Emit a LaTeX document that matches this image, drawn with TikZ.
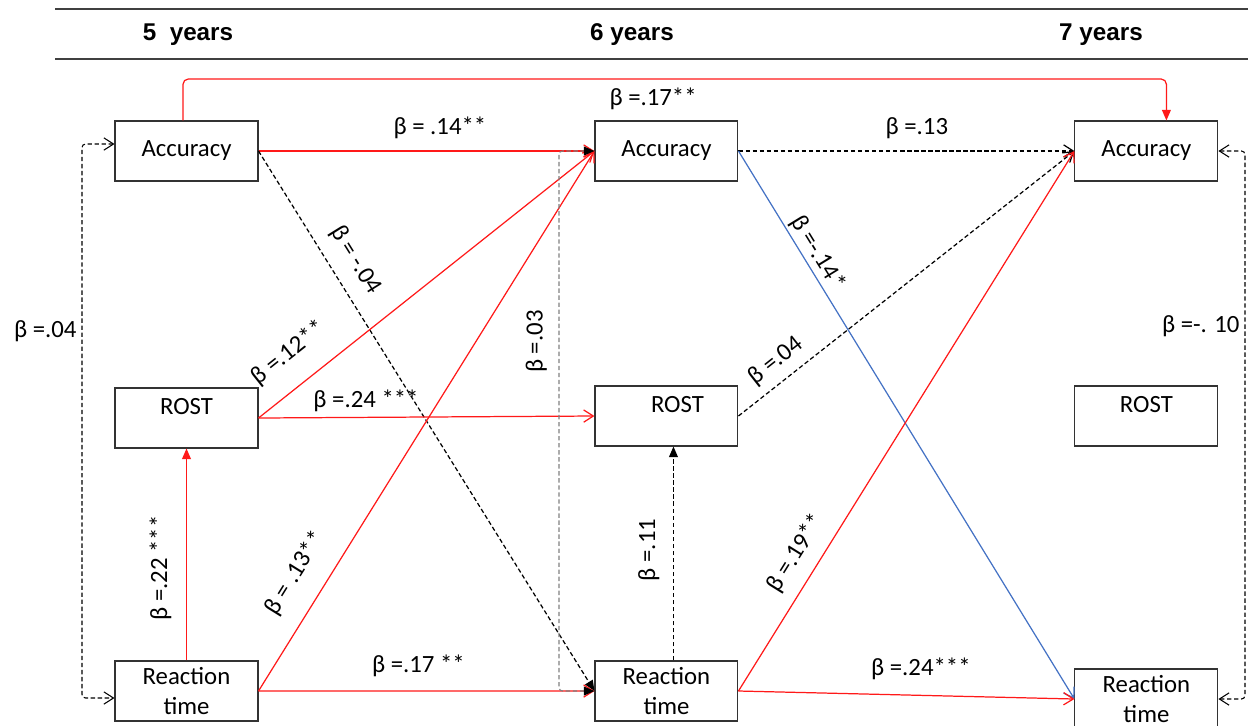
\documentclass[tikz,border=0pt]{standalone}
\usepackage{fontspec}
\setmainfont{Carlito}
\newfontfamily\headfont{Liberation Sans}
\usetikzlibrary{arrows.meta, positioning}
\definecolor{sigred}{RGB}{255,25,25}
\definecolor{negblue}{RGB}{68,114,196}
\tikzset{
  box/.style={
    rectangle, draw=black!80, line width=0.6pt, text centered, align=center,
    minimum width=2.86cm, minimum height=1.2cm, inner sep=0pt,
    font=\fontsize{14.1}{17}\selectfont
  },
  rostbox/.style={box, text height=9pt, text depth=12.5pt},
  lbl/.style={font=\fontsize{14.1}{17}\selectfont, inner sep=1pt, text=black},
  hdr/.style={font=\headfont\bfseries\fontsize{13.8}{16}\selectfont},
  sigarrow/.style={-{Straight Barb[length=5.5pt, width=7pt]}, line width=0.7pt, sigred},
  sigfill/.style ={-{Triangle[length=6pt, width=5pt]}, line width=0.7pt, sigred},
  nsarrow/.style ={-{Straight Barb[length=5.5pt, width=7pt]}, line width=0.7pt, dash pattern=on 2.5pt off 1.5pt},
  nsfill/.style  ={-{Triangle[length=6pt, width=5pt]}, line width=0.7pt, dash pattern=on 2.5pt off 1.5pt},
  negarrow/.style={-{Straight Barb[length=5.5pt, width=7pt]}, line width=0.7pt, negblue},
  corr/.style={{Straight Barb[length=5.5pt, width=7pt]}-{Straight Barb[length=5.5pt, width=7pt]},
    line width=0.6pt, dash pattern=on 2.5pt off 1.5pt, rounded corners=2pt},
  corrgray/.style={{Triangle[length=6pt, width=5pt, black]}-{Triangle[length=6pt, width=5pt, black]},
    line width=0.6pt, gray, dash pattern=on 2.5pt off 1.5pt, rounded corners=2pt},
}

\begin{document}
\begin{tikzpicture}[x=0.02cm, y=-0.02cm]
\useasboundingbox (0,0) rectangle (1248,725);

%% ---- HEADER ----
\draw[black!75, line width=0.6pt] (55,9) -- (1248,9);
\draw[black!75, line width=0.6pt] (55,59) -- (1248,59);
\node[hdr] (h5) at (188,35) {5~ years};
\node[hdr] (h6) at (632,35) {6 years};
\node[hdr] (h7) at (1101,35) {7 years};

%% ---- BOXES ----
\node[box] (acc5) at (186.5,151) {Accuracy};
\node[rostbox, below=4.12cm of acc5] (rost5) {ROST};
\node[box, below=4.24cm of rost5] (rt5) {Reaction\\time};

\node[box, right=6.72cm of acc5] (acc6) {Accuracy};
\node[rostbox, below=4.08cm of acc6] (rost6) {\hspace*{0.44cm}ROST};
\node[box, below=4.28cm of rost6] (rt6) {Reaction\\time};

\node[box, right=6.72cm of acc6] (acc7) {Accuracy};
\node[rostbox, below=4.08cm of acc7] (rost7) {ROST};
\node[box, below=4.44cm of rost7] (rt7) {Reaction\\time};

%% ---- 5 -> 6 years ----
\draw[sigarrow] (acc5.east) -- node[lbl, above=5.6pt, pos=0.54] {β = .14**} (acc6.west);
\draw[nsfill] (acc5.east) -- node[lbl, sloped, above=6.7pt, pos=0.226] {β = -.04} (rt6.west);
\draw[sigarrow] (rost5.east) -- node[lbl, sloped, above=10.7pt, pos=0.149] {β =.12**} (acc6.west);
\draw[sigarrow] (rost5.east) -- node[lbl, above=1.6pt, pos=0.32] {β =.24 ***} (rost6.west);
\draw[sigarrow] (rt5.east) -- node[lbl, sloped, above=10pt, pos=0.188] {β = .13**} (acc6.west);
\draw[sigarrow] (rt5.east) -- node[lbl, above=6.7pt, pos=0.476] {β =.17 **} (rt6.west);
\draw[sigfill] (rt5.north) -- node[lbl, sloped, above=7.3pt, pos=0.437] {β =.22 ***} (rost5.south);

%% ---- 6 -> 7 years ----
\draw[nsarrow] (acc6.east) -- node[lbl, above=5.6pt, pos=0.531] {β =.13} (acc7.west);
\draw[negarrow] (acc6.east) -- node[lbl, sloped, above=0.5pt, pos=0.2] {β =-.14*} (rt7.west);
\draw[nsarrow] (rost6.east) -- node[lbl, sloped, above=3.9pt, pos=0.148] {β =.04} (acc7.west);
\draw[sigarrow] (rt6.east) -- node[lbl, sloped, above=6.1pt, pos=0.232] {β =.19**} (acc7.west);
\draw[sigarrow] (rt6.east) -- node[lbl, above=7.8pt, pos=0.543] {β =.24***} (rt7.west);
\draw[nsfill] ([xshift=0.14cm]rt6.north) -- node[lbl, sloped, above=6.7pt, pos=0.516] {β =.11} ([xshift=0.14cm]rost6.south);

%% ---- 5 -> 7 years, over the top ----
\coordinate (topy) at (0,79);
\coordinate (tl) at ([xshift=-0.07cm]acc5.north);
\coordinate (tr) at ([xshift=0.4cm]acc7.north);
\draw[sigfill, rounded corners=3pt] (tl) -- (tl |- topy)
  -- node[lbl, below=3.9pt, pos=0.478] {β =.17**} (tr |- topy) -- (tr);

%% ---- correlations ----
\coordinate (lside) at (82,0);
\coordinate (a5w) at ([yshift=0.14cm]acc5.west);
\coordinate (r5w) at ([yshift=-0.14cm]rt5.west);
\draw[corr] (a5w) -- (lside |- a5w)
  -- node[lbl, left=1.8pt, pos=0.338] {β =.04} (lside |- r5w) -- (r5w);

\coordinate (mside) at (559,0);
\draw[corrgray] (rt6.west) -- (mside |- rt6.west)
  -- node[lbl, sloped, above=5.6pt, pos=0.647] {β =.03} (mside |- acc6.west) -- (acc6.west);

\coordinate (rside) at (1245,0);
\draw[corr] (acc7.east) -- (rside |- acc7.east)
  -- node[lbl, left=1.8pt, pos=0.32] {β =-. 10} (rside |- rt7.east) -- (rt7.east);

\end{tikzpicture}
\end{document}
